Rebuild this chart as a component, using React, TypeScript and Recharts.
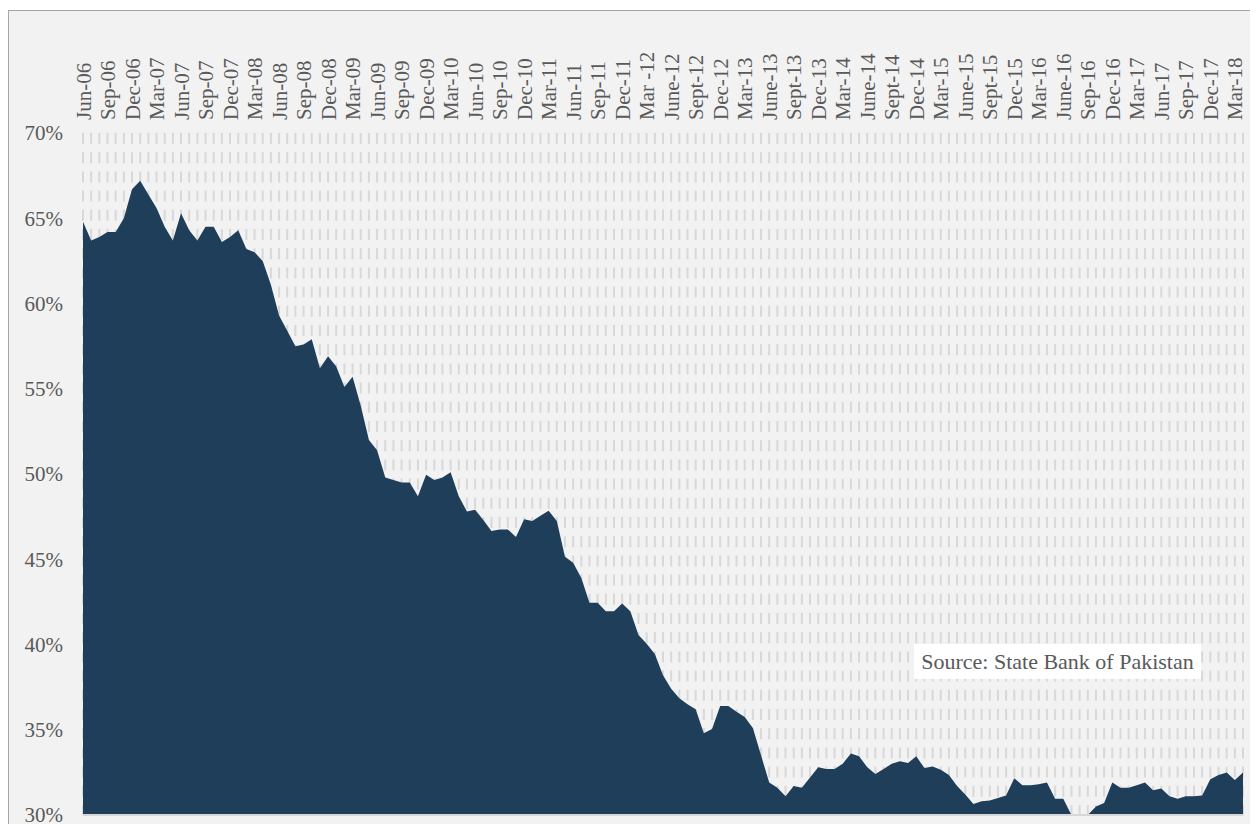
import React from "react";
import {
  AreaChart,
  Area,
  XAxis,
  YAxis,
  CartesianGrid,
  ReferenceLine,
} from "recharts";

// Monthly share (%), Jun-06 .. Apr-18
const SHARE = [
  64.8, 63.7, 63.9, 64.2, 64.2, 65.0, 66.7, 67.2, 66.4, 65.6, 64.5, 63.7,
  65.3, 64.3, 63.7, 64.5, 64.5, 63.6, 63.9, 64.3, 63.2, 63.0, 62.5, 61.1,
  59.3, 58.4, 57.5, 57.6, 57.9, 56.2, 56.9, 56.3, 55.1, 55.7, 54.0, 52.0,
  51.4, 49.8, 49.65, 49.5, 49.5, 48.7, 49.95, 49.65, 49.8, 50.1, 48.7, 47.8,
  47.9, 47.3, 46.65, 46.75, 46.75, 46.3, 47.35, 47.25, 47.55, 47.85, 47.25, 45.15,
  44.8, 43.9, 42.45, 42.45, 41.95, 41.95, 42.4, 41.95, 40.55, 40.05, 39.45, 38.2,
  37.4, 36.85, 36.5, 36.2, 34.8, 35.05, 36.4, 36.4, 36.05, 35.75, 35.1, 33.5,
  31.9, 31.6, 31.1, 31.7, 31.6, 32.2, 32.8, 32.7, 32.7, 33.0, 33.6, 33.45,
  32.8, 32.4, 32.7, 33.0, 33.15, 33.05, 33.45, 32.75, 32.85, 32.65, 32.35, 31.7,
  31.2, 30.65, 30.8, 30.85, 31.0, 31.15, 32.15, 31.75, 31.75, 31.8, 31.9, 30.95,
  30.95, 30.0, 30.0, 30.0, 30.5, 30.7, 31.9, 31.6, 31.6, 31.75, 31.9, 31.45,
  31.55, 31.1, 30.95, 31.1, 31.1, 31.15, 32.1, 32.35, 32.5, 32.05, 32.5,
];

// quarterly labels as printed on the chart
const TICK_LABELS = [
  "Jun-06", "Sep-06", "Dec-06", "Mar-07", "Jun-07", "Sep-07", "Dec-07", "Mar-08",
  "Jun-08", "Sep-08", "Dec-08", "Mar-09", "Jun-09", "Sep-09", "Dec-09", "Mar-10",
  "Jun-10", "Sep-10", "Dec-10", "Mar-11", "Jun-11", "Sep-11", "Dec-11", "Mar -12",
  "June-12", "Sept-12", "Dec-12", "Mar-13", "June-13", "Sept-13", "Dec-13", "Mar-14",
  "June-14", "Sept-14", "Dec-14", "Mar-15", "June-15", "Sept-15", "Dec-15", "Mar-16",
  "June-16", "Sep-16", "Dec-16", "Mar-17", "Jun-17", "Sep-17", "Dec-17", "Mar-18",
];

const Y_TICKS = [30, 35, 40, 45, 50, 55, 60, 65, 70];

const MONTH_NAMES = ["Jan", "Feb", "Mar", "Apr", "May", "Jun", "Jul", "Aug", "Sep", "Oct", "Nov", "Dec"];

const data = SHARE.map((v, i) => {
  const m = (5 + i) % 12;
  const y = 6 + Math.floor((5 + i) / 12);
  return { month: `${MONTH_NAMES[m]}-${String(y).padStart(2, "0")}`, share: v };
});

const FONT = '"Liberation Serif", "Times New Roman", serif';
const TEXT = "#595959";

const MonthTick = (props: any) => {
  const { x, y, index } = props;
  if (index % 3 !== 0) return <g />;
  return (
    <g transform={`translate(${x + 7.5},${y - 13}) rotate(-90)`}>
      <text x={0} y={0} textAnchor="start" fill={TEXT} fontSize={21} fontFamily={FONT}>
        {TICK_LABELS[index / 3]}
      </text>
    </g>
  );
};

export default function App() {
  return (
    <div style={{ paddingTop: 2 }}>
      <style>{"html,body{overflow:hidden}"}</style>
      <div
        style={{
          position: "relative",
          width: 1249,
          height: 813,
          border: "1px solid #a6a6a6",
          background: "#f2f2f2",
        }}
      >
        <AreaChart
          width={1249}
          height={813}
          data={data}
          margin={{ top: 0, right: 15, bottom: 9, left: 14 }}
        >
          <CartesianGrid
            horizontal={false}
            vertical
            stroke="#d8d8d8"
            strokeWidth={2}
            strokeDasharray="11 8.2"
          />
          <XAxis
            dataKey="month"
            orientation="top"
            height={122}
            interval={0}
            tickSize={0}
            tickMargin={0}
            axisLine={false}
            tickLine={false}
            tick={<MonthTick />}
          />
          <YAxis
            domain={[30, 70]}
            ticks={Y_TICKS}
            interval={0}
            width={60}
            tickSize={0}
            tickMargin={20}
            axisLine={false}
            tickLine={false}
            allowDataOverflow
            tickFormatter={(v: number) => `${v}%`}
            tick={{ fill: TEXT, fontSize: 21, fontFamily: FONT }}
          />
          <ReferenceLine y={30} stroke="#d6d6d6" strokeWidth={2} />
          <Area
            type="linear"
            dataKey="share"
            stroke="none"
            fill="#1f3e5a"
            fillOpacity={1}
            isAnimationActive={false}
          />
        </AreaChart>
        <div
          style={{
            position: "absolute",
            left: 905,
            top: 633,
            width: 287,
            height: 35,
            background: "#ffffff",
            display: "flex",
            alignItems: "center",
            justifyContent: "center",
            fontFamily: FONT,
            fontSize: 22,
            color: TEXT,
          }}
        >
          Source: State Bank of Pakistan
        </div>
      </div>
    </div>
  );
}
